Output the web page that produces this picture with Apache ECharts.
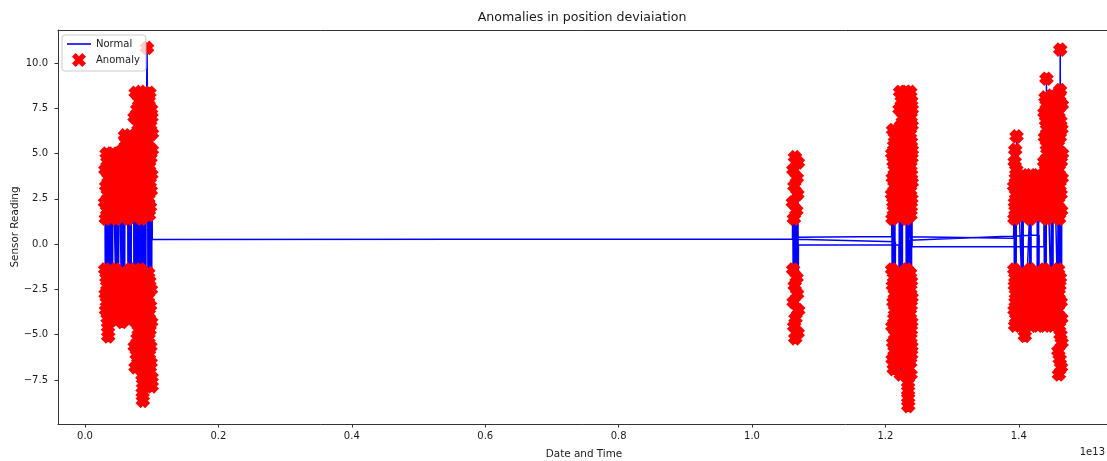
<!DOCTYPE html>
<html lang="en">

<head>
  <meta charset="UTF-8">
  <title>Anomalies in position deviaiation</title>
  <style>
    html, body { margin: 0; padding: 0; background: #fff; }
  </style>
</head>

<body>
  <div id="main" style="width: 1107px;height:461px;"></div>
  <script src="https://cdn.jsdelivr.net/npm/echarts@6/dist/echarts.min.js"></script>
  <script>
    // readings as [time, value]; time is in units of 1e9 (the axis shows 1e13)
    // runs are kept in the order they were recorded
    const runA = [
      [300, 2.3], [303, -1.4], [306, 4.1], [309, -2.75], [312, 1.4], [315, -3.65], [318, 3.2], [321, -1.85], [324, 5.0],
      [327, -3.2], [330, 1.85], [333, -2.3], [336, 4.55], [339, -4.1], [342, 2.75], [345, -4.6], [348, -5.1], [351, 3.65],
      [365, -2.05], [369, 3.4], [373, -1.6], [377, 1.6], [381, -3.4], [385, 4.75], [389, -2.5], [393, 2.05], [397, -4.2],
      [401, 3.85], [405, -2.95], [409, 2.5], [413, -3.85], [417, 5.0], [421, 2.95], [425, 4.3],
      [455, -1.4], [459, 2.75], [463, -3.2], [467, 1.4], [471, -2.3], [475, 4.1], [479, -4.1], [483, 1.85], [487, -1.85],
      [491, 3.65], [495, -2.75], [499, 2.3], [503, -3.65], [507, 5.0], [511, 3.2], [515, 4.55],
      [545, -2.5], [550, 1.6], [555, -4.3], [559, 3.4], [563, -1.6], [567, 5.2], [571, -3.4], [575, 2.05], [579, -2.05],
      [583, 4.3], [587, -3.85], [591, 2.95], [595, -2.95], [599, 6.0], [603, 3.85], [607, 2.5], [611, 5.65], [615, 4.75],
      [640, 3.2], [644, -1.85], [648, 1.4], [652, -3.65], [656, 5.0], [660, -2.3], [664, 2.3], [668, -4.1], [672, 4.1],
      [676, -1.4], [680, 5.95], [684, -3.2], [688, 1.85], [692, -2.75], [696, 3.65], [700, 5.45], [704, 2.75], [708, 4.55],
      [730, 4.3], [733, -3.4], [736, 1.6], [739, -1.6], [742, 7.0], [745, -5.65], [748, 2.95], [751, -2.5], [754, 5.65],
      [757, -6.8], [760, 8.35], [763, -4.3], [766, 2.05], [769, -2.05], [772, 6.1], [775, -6.1], [778, 3.85], [781, -3.85],
      [784, 7.45], [787, -5.2], [790, 2.5], [793, -2.95], [796, 4.75], [799, -6.55], [802, 6.55], [805, -4.75], [808, 3.4],
      [811, 7.9], [814, 5.2],
      [822, 6.8], [825, -4.1], [828, 2.3], [831, -1.4], [834, 8.4], [837, -6.35], [840, 4.1], [843, -2.75], [846, 1.4],
      [849, -5.45], [852, 5.9], [855, -1.85], [858, 3.2], [861, -7.25], [864, -8.2], [867, -8.65], [870, -7.7], [873, 7.7],
      [876, -3.65], [879, 2.75], [882, -5.9], [885, 5.0], [888, -2.3], [891, 1.85], [894, -4.55], [897, 7.25], [900, -6.8],
      [903, 3.65], [906, -3.2], [909, 6.35], [912, -5.0], [915, 4.55], [918, 8.15], [921, 5.45], [924, 8.3], [930, 10.83],
      [936, 8.0],
      [944, -2.95], [946, 5.65], [948, -1.6], [950, 2.5], [952, -5.2], [954, 7.9], [956, -3.85], [958, 1.6], [960, -6.1],
      [962, 4.3], [964, -2.05], [966, 8.35], [968, -4.75], [970, 3.4], [972, -6.8], [974, 2.05], [976, -3.4], [978, 6.55],
      [980, -5.65], [982, 4.75], [984, -6.55], [986, 2.95], [988, -2.5], [990, 7.45], [992, -4.3], [994, 3.85], [996, 7.0],
      [998, -7.35], [1000, -7.85], [1002, 5.2], [1004, 6.1], [1008, 0.25]
    ];
    const runB1 = [
      [10606, 0.28], [10612, 2.3], [10616, -1.4], [10620, 4.1], [10624, -3.2], [10628, 1.4], [10632, -4.55], [10636, 3.2],
      [10640, -2.3], [10644, 4.8], [10648, -5.2], [10652, -4.1], [10656, 0.38]
    ];
    const runC1 = [
      [12094, 0.42], [12098, 2.75], [12100, -1.4], [12102, 5.0], [12104, -4.55], [12106, 1.4], [12108, -6.35], [12110, 3.65],
      [12112, -2.3], [12114, 6.3], [12116, -5.45], [12118, 2.3], [12120, -3.2], [12122, 4.55], [12124, -6.9], [12126, 1.85],
      [12128, -1.85], [12130, 5.45], [12132, -4.1], [12134, 3.2], [12136, -5.9], [12138, 4.1], [12140, -2.75], [12142, 5.9],
      [12144, -3.65], [12146, -5.0], [12150, 0.13]
    ];
    const runB2 = [
      [10660, 0.27], [10664, 1.85], [10668, -1.85], [10672, 3.65], [10676, -2.75], [10680, 2.75], [10684, -4.9], [10688, 4.5],
      [10692, -3.65], [10696, -0.05]
    ];
    const runC2 = [
      [12202, -0.05], [12206, -2.95], [12208, 4.3], [12210, -1.6], [12212, 7.45], [12214, -5.2], [12216, 2.05], [12218, -3.85],
      [12220, 8.4], [12222, -6.55], [12224, 3.4], [12226, -2.05], [12228, 5.65], [12230, -7.2], [12232, 1.6], [12234, -4.3],
      [12236, 6.55], [12238, -2.5], [12240, 2.95], [12242, -5.65], [12244, 7.9], [12246, -3.4], [12248, 4.75], [12250, -6.1],
      [12252, 2.5], [12254, -4.75], [12256, 6.1], [12258, 3.85], [12260, 7.0], [12262, 5.2],
      [12310, 5.45], [12311, -2.3], [12312, 1.4], [12313, -5.0], [12314, 8.4], [12315, -3.65], [12316, 3.2], [12317, -6.35],
      [12318, 6.8], [12319, -1.4], [12320, 2.3], [12321, -4.55], [12322, 7.7], [12323, -7.2], [12324, 4.1], [12325, -2.75],
      [12326, 5.9], [12327, -5.9], [12328, 1.85], [12329, -3.2], [12330, 7.25], [12331, -6.8], [12332, 3.65], [12333, -1.85],
      [12334, 6.35], [12335, -4.1], [12336, 2.75], [12337, -5.45], [12338, 4.55], [12339, -7.65], [12340, -8.1], [12341, -8.5],
      [12342, -8.94], [12343, 5.0], [12347, 0.4]
    ];
    const runD1 = [
      [13922, 0.33], [13930, 3.2], [13932, -1.4], [13934, 1.4], [13936, -3.65], [13938, 4.55], [13940, -2.3], [13942, 2.3],
      [13944, -4.5], [13946, 5.2], [13948, -1.85], [13950, 1.85], [13952, -3.2], [13954, 3.65], [13956, -2.75], [13958, 2.75],
      [13960, -4.1], [13962, 4.1], [13966, 5.95],
      [14043, -2.05], [14045, 2.5], [14047, -3.4], [14049, 1.6], [14051, -4.5], [14053, 3.4], [14055, -1.6], [14057, 2.05],
      [14059, -2.95], [14061, 3.8], [14063, -3.85], [14065, 2.95], [14067, -2.5], [14069, -4.3], [14090, -5.07],
      [14163, 1.85], [14165, -2.75], [14167, 3.2], [14169, -1.4], [14171, 1.4], [14173, -4.1], [14175, 2.75], [14177, -1.85],
      [14179, 3.8], [14181, -3.2], [14183, 2.3], [14185, -4.5], [14187, -2.3], [14189, -3.65],
      [14275, -1.6], [14277, 2.95], [14279, -3.85], [14281, 1.6], [14283, -2.5], [14285, 3.8], [14287, -4.5], [14289, 2.05],
      [14291, -2.05], [14293, 3.4], [14295, -3.4], [14297, 2.5], [14299, -4.3], [14301, -2.95], [14305, 0.5]
    ];
    const runC3 = [
      [12364, 0.22], [12368, -3.85], [12369, 6.1], [12370, -1.6], [12371, 2.95], [12372, -6.55], [12373, 8.4], [12374, -2.5],
      [12375, 4.3], [12376, -5.2], [12377, 1.6], [12378, -7.2], [12379, 7.0], [12380, -3.4], [12381, 2.05], [12382, -4.75],
      [12383, 5.65], [12384, -2.05], [12385, 3.85], [12386, -6.1], [12387, 7.9], [12388, -4.3], [12389, 2.5], [12390, -5.65],
      [12391, 4.75], [12392, -2.95], [12393, 6.55], [12394, 3.4], [12395, 7.45], [12396, 5.2], [12400, -0.15]
    ];
    const runD2 = [
      [14376, -0.15], [14380, 4.55], [14382, -1.4], [14384, 7.25], [14386, -3.2], [14388, 1.85], [14390, -4.5], [14392, 5.9],
      [14394, -2.3], [14396, 3.2], [14398, -3.65], [14400, 8.1], [14402, -1.85], [14404, 2.75], [14406, -4.1], [14408, 6.8],
      [14410, -2.75], [14412, 4.1], [14414, 9.13], [14416, 7.7], [14418, 1.4], [14420, 5.45], [14422, 2.3], [14424, 6.35],
      [14426, 3.65], [14428, 5.0],
      [14485, -3.4], [14487, 6.1], [14489, -1.6], [14491, 2.95], [14493, -4.3], [14495, 8.2], [14497, -2.5], [14499, 4.75],
      [14501, -3.85], [14503, 1.6], [14505, -2.05], [14507, 7.0], [14509, -4.5], [14511, 3.85], [14513, -2.95], [14515, 5.65],
      [14517, 2.05], [14519, 7.9], [14521, 3.4], [14523, 6.55], [14525, 2.5], [14527, 4.3], [14529, 7.45], [14531, 5.2],
      [14585, -3.65], [14587, 5.45], [14589, -1.4], [14591, 2.3], [14593, -5.9], [14595, 7.25], [14597, -2.75], [14599, 4.1],
      [14601, -7.2], [14603, 1.4], [14605, -4.55], [14607, 8.15], [14609, -2.3], [14611, 3.2], [14613, -6.35], [14615, 5.9],
      [14617, -1.85], [14619, 8.5], [14621, 10.74], [14623, 6.8], [14625, -5.0], [14627, 2.75], [14629, -3.2], [14631, 4.55],
      [14633, -6.8], [14635, 1.85], [14637, -4.1], [14639, 6.35], [14641, -5.45], [14643, 3.65], [14645, 7.7], [14647, 5.0]
    ];

    const xTicks = [0, 2000, 4000, 6000, 8000, 10000, 12000, 14000];
    const yTicks = [-7.5, -5, -2.5, 0, 2.5, 5, 7.5, 10];
    const anomalyLimit = 1;

    const readings = [].concat(runA, runB1, runC1, runB2, runC2, runD1, runC3, runD2);
    const anomalies = readings.filter(p => Math.abs(p[1]) > anomalyLimit);

    const font = 'DejaVu Sans';
    const txt = '#1a1a1a';
    // matplotlib's filled "X" marker
    const xMarker = 'path://M-1,-2L0,-1L1,-2L2,-1L1,0L2,1L1,2L0,1L-1,2L-2,1L-1,0L-2,-1Z';
    const lineIcon = 'path://M0,0L24,0L24,1.6L0,1.6Z';

    const myChart = echarts.init(document.getElementById('main'));

    const option = {
      animation: false,
      textStyle: { fontFamily: font },
      title: {
        text: 'Anomalies in position deviaiation',
        left: 582,
        top: 11,
        textAlign: 'center',
        padding: 0,
        textStyle: { fontSize: 12.6, fontWeight: 'normal', color: txt, fontFamily: font }
      },
      legend: {
        orient: 'vertical',
        left: 62,
        top: 35,
        padding: [4, 6, 4, 5],
        itemGap: 4,
        itemWidth: 24,
        itemHeight: 13,
        selectedMode: false,
        backgroundColor: 'rgba(255,255,255,0.8)',
        borderColor: '#cccccc',
        borderWidth: 1,
        borderRadius: 3,
        textStyle: { fontSize: 10, color: txt, fontFamily: font },
        data: [
          { name: 'Normal', icon: lineIcon, itemStyle: { color: '#0000ff', borderWidth: 0 } },
          { name: 'Anomaly', icon: xMarker, itemStyle: { borderWidth: 1, borderJoin: 'miter' } }
        ]
      },
      grid: { left: 58, top: 30, width: 1052, height: 394, containLabel: false, outerBoundsMode: 'none' },
      xAxis: [{
        type: 'value',
        min: -405,
        max: 15367,
        name: 'Date and Time',
        nameLocation: 'middle',
        nameGap: 25,
        nameMoveOverlap: false,
        nameTextStyle: { fontSize: 10.4, color: txt, fontFamily: font },
        axisLine: { show: true, onZero: false, lineStyle: { color: '#333', width: 1 } },
        axisTick: { show: true, length: 3.5, customValues: xTicks, lineStyle: { color: '#333' } },
        axisLabel: {
          customValues: xTicks,
          fontSize: 10,
          color: txt,
          margin: 7,
          formatter: v => (v / 10000).toFixed(1)
        },
        splitLine: { show: false }
      }, {
        type: 'value',
        position: 'top',
        min: -405,
        max: 15367,
        axisLine: { show: true, onZero: false, lineStyle: { color: '#333', width: 1 } },
        axisTick: { show: false },
        axisLabel: { show: false },
        splitLine: { show: false }
      }],
      yAxis: {
        type: 'value',
        min: -9.93,
        max: 11.82,
        name: 'Sensor Reading',
        nameLocation: 'middle',
        nameGap: 38,
        nameMoveOverlap: false,
        nameTextStyle: { fontSize: 10.4, color: txt, fontFamily: font },
        axisLine: { show: true, onZero: false, lineStyle: { color: '#333', width: 1 } },
        axisTick: { show: true, length: 3.5, customValues: yTicks, lineStyle: { color: '#333' } },
        axisLabel: {
          customValues: yTicks,
          fontSize: 10,
          color: txt,
          margin: 10,
          formatter: v => (v < 0 ? '\u2212' : '') + Math.abs(v).toFixed(1)
        },
        splitLine: { show: false }
      },
      graphic: [{
        type: 'text',
        right: 2,
        top: 447,
        style: { text: '1e13', fontSize: 10, fill: txt, fontFamily: font }
      }],
      series: [{
        name: 'Normal',
        type: 'line',
        data: readings,
        symbol: 'none',
        z: 2,
        lineStyle: { color: '#0000ff', width: 1.5 },
        itemStyle: { color: '#0000ff' }
      }, {
        name: 'Anomaly',
        type: 'scatter',
        data: anomalies,
        symbol: xMarker,
        symbolSize: 9,
        z: 3,
        itemStyle: { color: '#ff0000', borderColor: '#ff0000', borderWidth: 4, borderJoin: 'miter', opacity: 1 }
      }]
    };

    myChart.setOption(option);
  </script>
</body>

</html>
